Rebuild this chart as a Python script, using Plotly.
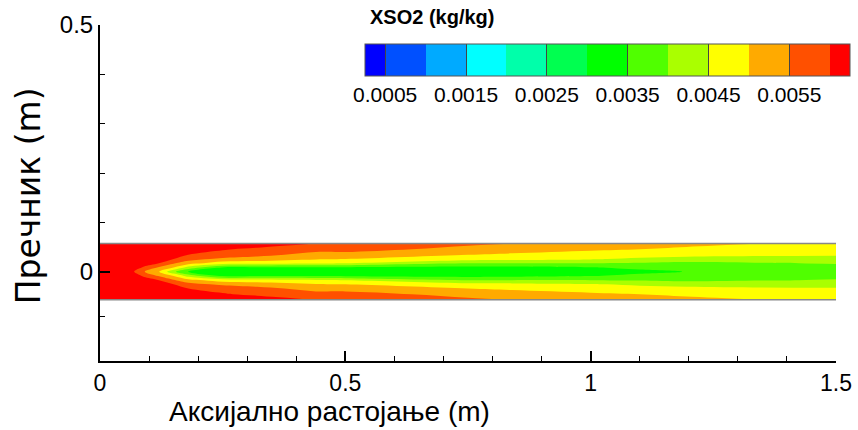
import numpy as np
import plotly.graph_objects as go

# ---------------- data ----------------
R = 0.057  # pipe radius (m)

# axial stations (m)
x_st = [0.0, 0.05, 0.07, 0.09, 0.12, 0.15, 0.18, 0.25, 0.32, 0.44, 0.5,
        0.75, 0.84, 1.0, 1.1, 1.195, 1.35, 1.5]
# radial positions as fraction of radius
r_frac = [0.0, 0.15, 0.3, 0.45, 0.6, 0.8, 1.0]

# XSO2 in units of 1e-3 kg/kg; one row per axial station, columns follow r_frac
xso2_e3 = [
    [6.80, 7.00, 7.00, 7.00, 7.00, 7.00, 7.00],  # x = 0.0
    [6.35, 6.60, 6.80, 6.90, 7.00, 7.00, 7.00],  # x = 0.05
    [5.97, 6.30, 6.60, 6.80, 6.90, 7.00, 7.00],  # x = 0.07
    [5.52, 5.90, 6.30, 6.60, 6.80, 7.00, 7.00],  # x = 0.09
    [5.02, 5.45, 6.00, 6.40, 6.70, 6.90, 7.00],  # x = 0.12
    [4.10, 5.00, 5.55, 6.00, 6.40, 6.80, 7.00],  # x = 0.15
    [3.45, 4.30, 5.20, 5.70, 6.00, 6.50, 7.00],  # x = 0.18
    [3.20, 3.45, 4.75, 5.38, 5.88, 6.03, 6.50],  # x = 0.25
    [3.18, 3.45, 4.65, 5.31, 5.63, 5.93, 6.20],  # x = 0.32
    [3.12, 3.45, 4.55, 5.05, 5.35, 5.65, 6.00],  # x = 0.44
    [3.10, 3.42, 4.50, 5.00, 5.30, 5.70, 5.90],  # x = 0.5
    [3.05, 3.35, 4.00, 4.70, 5.00, 5.33, 5.60],  # x = 0.75
    [3.07, 3.37, 4.00, 4.65, 4.93, 5.20, 5.50],  # x = 0.84
    [3.20, 3.48, 4.00, 4.55, 4.78, 5.08, 5.30],  # x = 1.0
    [3.40, 3.60, 3.95, 4.40, 4.70, 5.00, 5.20],  # x = 1.1
    [3.51, 3.65, 3.88, 4.30, 4.65, 4.92, 5.12],  # x = 1.195
    [3.70, 3.80, 3.97, 4.28, 4.58, 4.80, 5.00],  # x = 1.35
    [3.80, 3.88, 4.03, 4.30, 4.55, 4.70, 4.85],  # x = 1.5
]

# contour levels / colour bands
level_start, level_end, level_size = 0.0005, 0.006, 0.0005
band_colors = ["#0000FF", "#0050FF", "#00AAFF", "#00FFFF", "#00FFAA", "#00FF50",
               "#00FF00", "#50FF00", "#AAFF00", "#FFFF00", "#FFAA00", "#FF5000", "#FF0000"]
cb_tickvals = [0.0005, 0.0015, 0.0025, 0.0035, 0.0045, 0.0055]
cb_ticktext = ["0.0005", "0.0015", "0.0025", "0.0035", "0.0045", "0.0055"]

x_tickvals = [0, 0.5, 1, 1.5]
x_ticktext = ["0", "0.5", "1", "1.5"]
y_tickvals = [0, 0.5]
y_ticktext = ["0", "0.5"]
y_minor = [-0.09, 0.1, 0.2, 0.3, 0.4]

# ---------------- build grid (mirror about the axis) ----------------
rr = np.array(r_frac) * R
y = np.concatenate([-rr[:0:-1], rr])
z_half = np.array(xso2_e3).T * 1e-3
Z = np.vstack([z_half[:0:-1], z_half])

n = len(band_colors)
colorscale = [[k / (n - 1), c] for k, c in enumerate(band_colors)]

FONT = "Liberation Sans, Arial, sans-serif"

fig = go.Figure()
fig.add_trace(go.Contour(
    x=x_st, y=y, z=Z,
    colorscale=colorscale,
    autocontour=False,
    contours=dict(start=level_start, end=level_end, size=level_size,
                  coloring="fill", showlines=False),
    line=dict(width=0),
    hoverinfo="skip",
    colorbar=dict(
        orientation="h",
        x=0.360, xanchor="left", xref="paper",
        y=0.9435, yanchor="top", yref="paper",
        len=485, lenmode="pixels",
        thickness=32, thicknessmode="pixels",
        xpad=0, ypad=0,
        outlinecolor="#555555", outlinewidth=1,
        tickmode="array", tickvals=cb_tickvals, ticktext=cb_ticktext,
        ticks="inside", ticklen=32, tickwidth=1, tickcolor="#444444",
        tickfont=dict(size=21, color="black", family=FONT),
    ),
))

# pipe walls
for sgn in (1, -1):
    fig.add_trace(go.Scatter(x=[x_st[0], x_st[-1]], y=[sgn * rr[-1]] * 2,
                             mode="lines", line=dict(color="#888888", width=1.5),
                             hoverinfo="skip", showlegend=False))

fig.update_layout(
    width=858, height=430,
    margin=dict(l=100, r=22, t=25, b=69, autoexpand=False),
    paper_bgcolor="white", plot_bgcolor="white",
    font=dict(family=FONT, color="black"),
    showlegend=False,
    xaxis=dict(range=[0, 1.5], showline=True, linecolor="black", linewidth=2,
               ticks="inside", ticklen=10, tickwidth=2, tickcolor="black",
               tickmode="array", tickvals=x_tickvals, ticktext=x_ticktext,
               tickfont=dict(size=23, family=FONT),
               minor=dict(ticks="inside", ticklen=5, tickwidth=1, tickcolor="black",
                          tick0=0, dtick=0.1, showgrid=False),
               showgrid=False, zeroline=False),
    yaxis=dict(range=[-0.181, 0.5], showline=True, linecolor="black", linewidth=2,
               ticks="inside", ticklen=10, tickwidth=2, tickcolor="black",
               tickmode="array", tickvals=y_tickvals, ticktext=y_ticktext,
               tickfont=dict(size=24, family=FONT),
               minor=dict(ticks="inside", ticklen=5, tickwidth=1, tickcolor="black",
                          tickmode="array", tickvals=y_minor, showgrid=False),
               showgrid=False, zeroline=False),
    annotations=[
        dict(text="<b>XSO2 (kg/kg)</b>", xref="paper", yref="paper",
             x=(368 - 100) / 736, y=(361 - 17) / 336, xanchor="left", yanchor="middle",
             showarrow=False, font=dict(size=20, family=FONT, color="black")),
        dict(text="Аксијално растојање (m)", xref="paper", yref="paper",
             x=(329 - 100) / 736, y=-(412 - 361) / 336, xanchor="center", yanchor="middle",
             showarrow=False, font=dict(size=28, family=FONT, color="black")),
        dict(text="Пречник (m)", xref="paper", yref="paper",
             x=(28 - 100) / 736, y=0.49, xanchor="center", yanchor="middle",
             showarrow=False, textangle=-90,
             font=dict(size=33, family="DejaVu Sans, Liberation Sans, sans-serif",
                       color="black")),
    ],
)

fig.write_html("out.html")
